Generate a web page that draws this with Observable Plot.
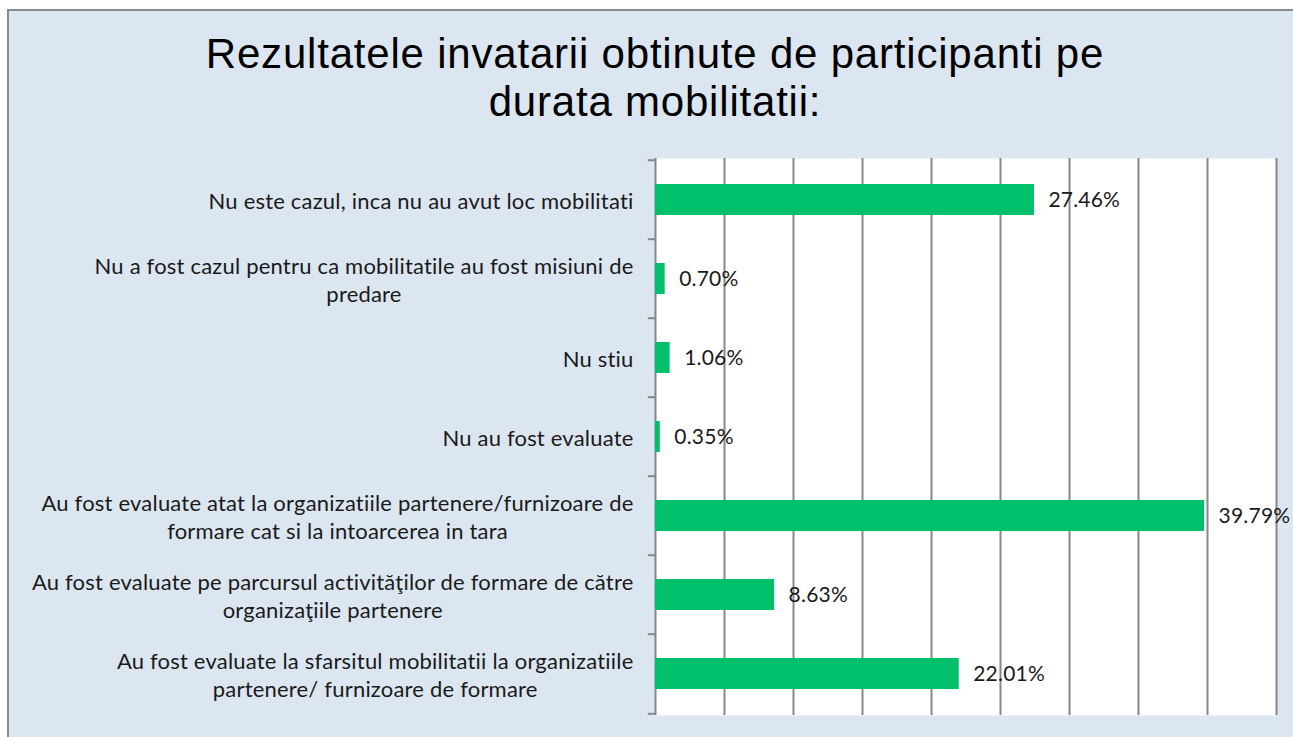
<!DOCTYPE html>
<html><head><meta charset="utf-8">
<script src="https://cdn.jsdelivr.net/npm/d3@7"></script>
<script src="https://cdn.jsdelivr.net/npm/@observablehq/plot@0.6"></script>
<style>
body{margin:0;background:#fff;}
#wrap{position:relative;width:1293px;height:737px;overflow:hidden;background:#fff;}
#panel{position:absolute;left:7px;top:9px;width:1300px;height:740px;background:#dce6f1;border-left:2px solid #8a8a8a;border-top:2px solid #8a8a8a;}
#title{position:absolute;left:0;width:1310px;top:30px;text-align:center;font-family:"Liberation Sans",Arial,sans-serif;font-size:42px;letter-spacing:0.8px;line-height:48px;color:#000;}
#chart{position:absolute;left:0;top:0;}
</style>
</head><body>
<div id="wrap">
  <div id="panel"></div>
  <div id="title">Rezultatele invatarii obtinute de participanti pe<br>durata mobilitatii:</div>
  <div id="chart"></div>
</div>
<script>
const categories = [
  "Nu este cazul, inca nu au avut loc mobilitati",
  "Nu a fost cazul pentru ca mobilitatile au fost misiuni de predare",
  "Nu stiu",
  "Nu au fost evaluate",
  "Au fost evaluate atat la organizatiile partenere/furnizoare de formare cat si la intoarcerea in tara",
  "Au fost evaluate pe parcursul activităţilor de formare de către organizaţiile partenere",
  "Au fost evaluate la sfarsitul mobilitatii la organizatiile partenere/ furnizoare de formare"
];
const labelLines = [
  "Nu este cazul, inca nu au avut loc mobilitati",
  "Nu a fost cazul pentru ca mobilitatile au fost misiuni de\npredare",
  "Nu stiu",
  "Nu au fost evaluate",
  "Au fost evaluate atat la organizatiile partenere/furnizoare de\nformare cat si la intoarcerea in tara",
  "Au fost evaluate pe parcursul activităţilor de formare de către\norganizaţiile partenere",
  "Au fost evaluate la sfarsitul mobilitatii la organizatiile\npartenere/ furnizoare de formare"
];
const values = [27.46, 0.70, 1.06, 0.35, 39.79, 8.63, 22.01];
const gridTicks = [0, 5, 10, 15, 20, 25, 30, 35, 40, 45];

const data = categories.map((c, i) => ({cat: c, value: values[i]}));
const labelOf = new Map(categories.map((c, i) => [c, labelLines[i]]));

const W = 1293, H = 737, mT = 158, mB = 22, mL = 655, mR = 17;
const bw = (H - mT - mB) / categories.length;
const font = "Lato, 'Open Sans', sans-serif";

const chart = Plot.plot({
  width: W, height: H,
  marginTop: mT, marginBottom: mB, marginLeft: mL, marginRight: mR,
  style: {background: "transparent", fontFamily: font, fontSize: "22px", color: "#1a1a1a", overflow: "visible", letterSpacing: "0.2px"},
  x: {domain: [0, 45], axis: null},
  y: {domain: categories, padding: 0},
  marks: [
    Plot.frame({fill: "white", stroke: "none"}),
    Plot.ruleX(gridTicks, {stroke: "#878787", strokeWidth: 2}),
    Plot.barX(data, {x: "value", y: "cat", fill: "#00c06b", insetTop: 24, insetBottom: 24}),
    Plot.ruleY(categories, {y: d => d, x1: -0.52, x2: 0, dy: -bw / 2, stroke: "#878787", strokeWidth: 2}),
    Plot.ruleY([categories[categories.length - 1]], {y: d => d, x1: -0.52, x2: 0, dy: bw / 2, stroke: "#878787", strokeWidth: 2}),
    Plot.text(data, {x: "value", y: "cat", text: d => d.value.toFixed(2) + "%", textAnchor: "start", dx: 14, fontSize: 21, fill: "#1a1a1a"}),
    Plot.axisY({tickSize: 0, tickPadding: 22, textAnchor: "middle", tickFormat: d => labelOf.get(d), lineHeight: 1.27, fontSize: 22, fill: "#1a1a1a", label: null})
  ]
});
document.getElementById("chart").appendChild(chart);

// right-align the block of each (centered) multi-line label
chart.querySelectorAll('[aria-label="y-axis tick label"] text').forEach(t => {
  const w = t.getBBox().width;
  const tr = t.getAttribute("transform") || "";
  t.setAttribute("transform", tr + ` translate(${-w / 2},0)`);
});
</script>
</body></html>
